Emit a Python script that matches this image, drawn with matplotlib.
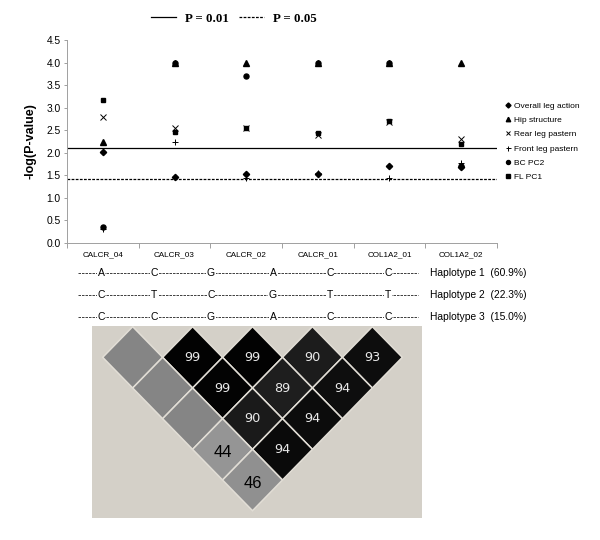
import matplotlib
matplotlib.use("Agg")
import matplotlib.pyplot as plt
from matplotlib.lines import Line2D
from matplotlib.patches import Polygon

# ---------------- data ----------------
snps = ["CALCR_04", "CALCR_03", "CALCR_02", "CALCR_01", "COL1A2_01", "COL1A2_02"]
overall_leg_action = [2.02, 1.46, 1.52, 1.52, 1.70, 1.69]
hip_structure      = [2.23, 4.00, 4.00, 4.00, 4.00, 4.00]
rear_leg_pastern   = [2.80, 2.56, 2.55, 2.40, 2.68, 2.30]
front_leg_pastern  = [0.32, 2.23, 1.44, 1.56, 1.43, 1.77]
bc_pc2             = [0.36, 4.00, 3.70, 4.00, 4.00, 1.70]
fl_pc1             = [3.16, 2.46, 2.54, 2.43, 2.70, 2.19]
thr_001 = 2.10
thr_005 = 1.42
yticks = [0.0, 0.5, 1.0, 1.5, 2.0, 2.5, 3.0, 3.5, 4.0, 4.5]

hap_alleles = [["A", "C", "G", "A", "C", "C"],
               ["C", "T", "C", "G", "T", "T"],
               ["C", "C", "G", "A", "C", "C"]]
hap_freq = [60.9, 22.3, 15.0]

# LD (D') values by marker distance (row 1 = adjacent pairs); None = blank cell
ld_values = [[None, 99, 99, 90, 93],
             [None, 99, 89, 94],
             [None, 90, 94],
             [44, 94],
             [46]]

# ---------------- styles ----------------
ld_colors = [["#858585", "#020202", "#020202", "#1c1c1c", "#0d0d0d"],
             ["#858585", "#030303", "#1e1e1e", "#0e0e0e"],
             ["#858585", "#1a1a1a", "#0c0c0c"],
             ["#959595", "#0a0a0a"],
             ["#909090"]]
SANS = "Liberation Sans"
SERIF = "Liberation Serif"
W, H = 600, 540

fig = plt.figure(figsize=(6, 5.4), dpi=100)
fig.patch.set_facecolor("white")

# overlay axes in pixel coordinates (layout only)
ov = fig.add_axes([0, 0, 1, 1], zorder=0)
ov.set_xlim(0, W)
ov.set_ylim(H, 0)
ov.axis("off")

# ---------------- scatter panel ----------------
ax = fig.add_axes([67 / W, 1 - 243 / H, 430 / W, 203 / H], zorder=2)
ax.set_facecolor("none")
xs = list(range(len(snps)))
series = [
    ("Overall leg action", overall_leg_action, dict(marker="D", ms=3.2)),
    ("Hip structure", hip_structure, dict(marker="^", ms=4.0)),
    ("Rear leg pastern", rear_leg_pastern, dict(marker="x", ms=3.8, mew=0.7)),
    ("Front leg pastern", front_leg_pastern, dict(marker="+", ms=4.5, mew=0.7)),
    ("BC PC2", bc_pc2, dict(marker="o", ms=3.6)),
    ("FL PC1", fl_pc1, dict(marker="s", ms=3.4)),
]
handles = []
for name, vals, st in series:
    h, = ax.plot(xs, vals, linestyle="none", color="black", mec="black",
                 mfc="black", label=name, **st)
    handles.append(h)

ax.axhline(thr_001, color="black", lw=0.9)
ax.axhline(thr_005, color="black", lw=0.9, linestyle=(0, (2.2, 1.1)))

ax.set_xlim(-0.5, len(snps) - 0.5)
ax.set_ylim(0, 4.5)
ax.set_yticks(yticks)
ax.set_yticklabels([f"{v:.1f}" for v in yticks], fontsize=7.4, family=SANS)
ax.set_xticks(xs)
ax.set_xticklabels(snps, fontsize=5.9, family=SANS)
ax.set_xticks([i - 0.5 for i in range(len(snps) + 1)], minor=True)
ax.tick_params(axis="x", which="major", length=0, pad=6)
ax.tick_params(axis="x", which="minor", length=3.5, width=0.6, color="#909090",
               direction="out")
ax.tick_params(axis="y", length=2.5, width=0.6, color="#909090", pad=2)
for s in ["top", "right"]:
    ax.spines[s].set_visible(False)
for s in ["left", "bottom"]:
    ax.spines[s].set_color("#a0a0a0")
    ax.spines[s].set_linewidth(0.7)
ax.set_ylabel("-log(P-value)", fontsize=9, fontweight="bold", family=SANS,
              labelpad=7)

# right legend
fig.legend(handles, [h.get_label() for h in handles], loc="upper left",
           bbox_to_anchor=(506 / W, 1 - 102 / H), frameon=False,
           prop={"family": SANS, "size": 6}, handlelength=0.55,
           handletextpad=0.4, labelspacing=0.77, borderaxespad=0, borderpad=0,
           numpoints=1, markerscale=0.8)

# top legend (thresholds)
fig.legend([Line2D([], [], color="black", lw=0.9),
            Line2D([], [], color="black", lw=0.9, linestyle=(0, (2.2, 1.1)))],
           ["P = 0.01", "P = 0.05"], loc="center left",
           bbox_to_anchor=(151 / W, 1 - 18.5 / H), ncol=2, frameon=False,
           prop={"family": SERIF, "size": 9.3, "weight": "bold"},
           handlelength=1.95, handletextpad=0.7, columnspacing=0.75,
           borderaxespad=0, borderpad=0)

# ---------------- haplotypes ----------------
allele_x = [101, 154, 211, 273, 330, 388]
row_y = [272.5, 294.5, 316.5]
for r, (alle, fq) in enumerate(zip(hap_alleles, hap_freq)):
    y = row_y[r]
    ov.plot([78, 418], [y + 0.6, y + 0.6], color="#202020", lw=0.6,
            linestyle=(0, (3.0, 1.2)), solid_capstyle="butt")
    for x, a in zip(allele_x, alle):
        ov.text(x, y, a, ha="center", va="center", fontsize=7.5, family=SANS,
                bbox=dict(facecolor="white", edgecolor="none", pad=0.4))
    ov.text(430, y, f"Haplotype {r + 1}  ({fq:.1f}%)", ha="left", va="center",
            fontsize=7.4, family=SANS)

# ---------------- LD plot ----------------
lx = fig.add_axes([91.7 / W, 1 - 518.3 / H, 330.6 / W, 192.3 / H], zorder=1)
lx.set_facecolor("#d4d0c8")
lx.set_xlim(-0.184, 5.334)
lx.set_ylim(-3.124, 0.011)
lx.set_xticks([])
lx.set_yticks([])
for s in lx.spines.values():
    s.set_visible(False)
for k, (rowv, rowc) in enumerate(zip(ld_values, ld_colors), start=1):
    for i, (v, c) in enumerate(zip(rowv, rowc)):
        j = i + k
        cx, cy = (i + j) / 2, -k / 2
        lx.add_patch(Polygon([(cx, cy + 0.5), (cx + 0.5, cy), (cx, cy - 0.5),
                              (cx - 0.5, cy)], closed=True, facecolor=c,
                             edgecolor="#e2ded6", lw=1.1))
        if v is not None:
            if v >= 50:
                lx.text(cx, cy, str(v), ha="center", va="center",
                        fontsize=9.3, color="#e8e8e8", family="DejaVu Sans")
            else:
                lx.text(cx, cy - 0.05, str(v), ha="center", va="center",
                        fontsize=12, color="black", family=SANS)

fig.savefig("out.png", dpi=100)
